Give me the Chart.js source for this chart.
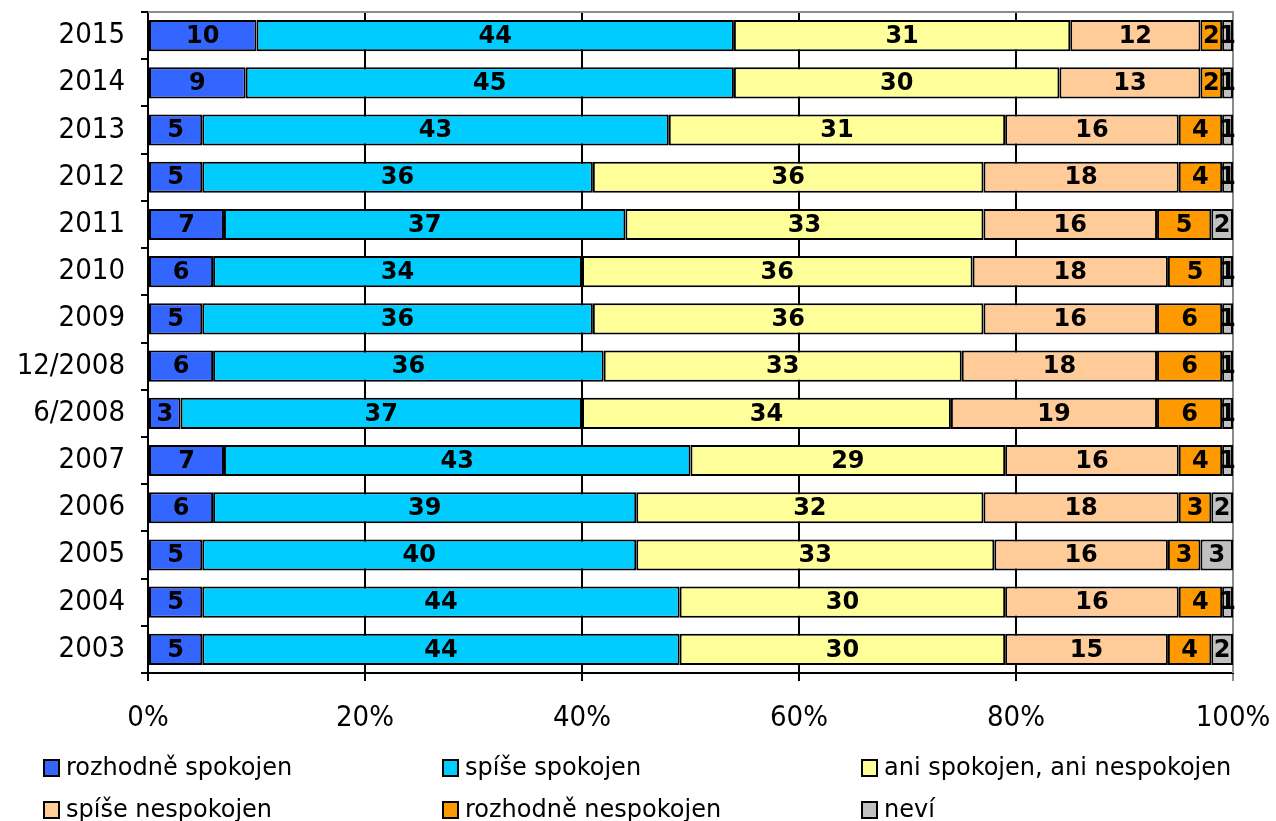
<!DOCTYPE html>
<html>
<head>
<meta charset="utf-8">
<script src="https://cdn.jsdelivr.net/npm/chart.js@4"></script>
<style>
  html, body { margin: 0; padding: 0; background: #fff; }
  #wrap { width: 1276px; height: 821px; }
</style>
</head>
<body>
<div id="wrap"><canvas id="bar-chart" width="1276" height="821"></canvas></div>
<script>
const years = ["2015", "2014", "2013", "2012", "2011", "2010", "2009", "12/2008", "6/2008", "2007", "2006", "2005", "2004", "2003"];
const rozhodneSpokojen   = [10, 9, 5, 5, 7, 6, 5, 6, 3, 7, 6, 5, 5, 5];
const spiseSpokojen      = [44, 45, 43, 36, 37, 34, 36, 36, 37, 43, 39, 40, 44, 44];
const aniAni             = [31, 30, 31, 36, 33, 36, 36, 33, 34, 29, 32, 33, 30, 30];
const spiseNespokojen    = [12, 13, 16, 18, 16, 18, 16, 18, 19, 16, 18, 16, 16, 15];
const rozhodneNespokojen = [2, 2, 4, 4, 5, 5, 6, 6, 6, 4, 3, 3, 4, 4];
const nevi               = [1, 1, 1, 1, 2, 1, 1, 1, 1, 1, 2, 3, 1, 2];
const xTicks = [0, 20, 40, 60, 80, 100];

const seriesNames = ["rozhodně spokojen", "spíše spokojen", "ani spokojen, ani nespokojen",
                     "spíše nespokojen", "rozhodně nespokojen", "neví"];
const seriesColors = ["#3366FF", "#00CCFF", "#FFFF99", "#FFCC99", "#FF9900", "#C0C0C0"];
const seriesData = [rozhodneSpokojen, spiseSpokojen, aniAni, spiseNespokojen, rozhodneNespokojen, nevi];

const TICK_FONT = '"DejaVu Sans Condensed", "DejaVu Sans"';

// popisky hodnot uprostred segmentu
const barLabels = {
  id: 'barLabels',
  afterDatasetsDraw(chart) {
    const ctx = chart.ctx;
    ctx.save();
    ctx.font = 'bold 24px "DejaVu Sans"';
    ctx.fillStyle = '#000';
    ctx.textAlign = 'center';
    ctx.textBaseline = 'middle';
    chart.data.datasets.forEach((ds, i) => {
      chart.getDatasetMeta(i).data.forEach((bar, j) => {
        const cx = (bar.x + bar.base) / 2;
        ctx.fillText(String(ds.data[j]), cx, bar.y + 1);
      });
    });
    ctx.restore();
  }
};

// seda hrana nahore a vpravo + legenda ve trech sloupcich
const frameAndLegend = {
  id: 'frameAndLegend',
  beforeDatasetsDraw(chart) {
    const a = chart.chartArea, ctx = chart.ctx;
    ctx.save();
    ctx.strokeStyle = '#8c8c8c';
    ctx.lineWidth = 2;
    ctx.beginPath();
    ctx.moveTo(a.left, a.top);
    ctx.lineTo(a.right, a.top);
    ctx.lineTo(a.right, a.bottom);
    ctx.stroke();
    ctx.restore();
  },
  afterDraw(chart) {
    const ctx = chart.ctx;
    const colX = [44, 443, 862];
    const rowY = [768, 810];
    ctx.save();
    ctx.font = '24px "DejaVu Sans"';
    ctx.textBaseline = 'middle';
    ctx.textAlign = 'left';
    chart.data.datasets.forEach((ds, i) => {
      const x = colX[i % 3], y = rowY[Math.floor(i / 3)];
      ctx.fillStyle = ds.backgroundColor;
      ctx.fillRect(x, y - 8, 15, 16);
      ctx.strokeStyle = '#000';
      ctx.lineWidth = 2;
      ctx.strokeRect(x, y - 8, 15, 16);
      ctx.fillStyle = '#000';
      ctx.fillText(ds.label, x + 22, y + 1);
    });
    ctx.restore();
  }
};

new Chart(document.getElementById("bar-chart"), {
  type: 'bar',
  data: {
    labels: years,
    datasets: seriesData.map((d, i) => ({
      label: seriesNames[i],
      data: d,
      backgroundColor: seriesColors[i],
      borderColor: '#000',
      borderWidth: 2,
      borderSkipped: false,
      categoryPercentage: 1,
      barPercentage: 0.66
    }))
  },
  options: {
    indexAxis: 'y',
    responsive: false,
    animation: false,
    layout: { padding: { top: 12, right: 43, left: 0, bottom: 0 } },
    plugins: {
      legend: { display: false },
      tooltip: { enabled: false }
    },
    scales: {
      x: {
        stacked: true,
        min: 0,
        max: 100,
        afterBuildTicks: s => { s.ticks = xTicks.map(v => ({ value: v })); },
        afterFit: s => { s.height = 148; s.paddingLeft = 0; s.paddingRight = 0; },
        border: { color: '#000', width: 2 },
        grid: {
          color: ctx => ctx.tick && ctx.tick.value === 100 ? '#8c8c8c' : '#000',
          lineWidth: 2,
          tickLength: 8
        },
        ticks: {
          color: '#000',
          padding: 20,
          font: { family: TICK_FONT, size: 29 },
          callback: v => v + '%'
        }
      },
      y: {
        stacked: true,
        afterFit: s => { s.width = 148; s.paddingTop = 0; s.paddingBottom = 0; },
        border: { color: '#000', width: 2 },
        grid: {
          offset: true,
          drawOnChartArea: false,
          color: '#000',
          lineWidth: 2,
          tickLength: 7
        },
        ticks: {
          color: '#000',
          padding: 16,
          font: { family: TICK_FONT, size: 29 }
        }
      }
    }
  },
  plugins: [barLabels, frameAndLegend]
});
</script>
</body>
</html>
